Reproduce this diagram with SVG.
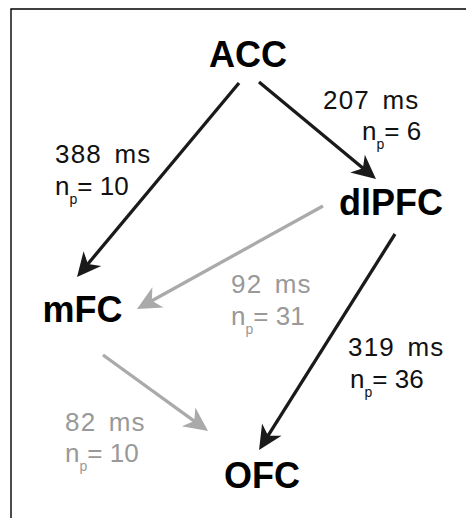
<svg xmlns="http://www.w3.org/2000/svg" width="466" height="518" viewBox="0 0 466 518">
<style>
.node{font-family:"Liberation Sans",Arial,Helvetica,sans-serif;font-weight:bold;font-size:36px;fill:#000;text-anchor:middle}
.lbl{font-family:"Liberation Sans",Arial,Helvetica,sans-serif;font-size:26px}
.ms{word-spacing:4px;letter-spacing:1.2px}
.blk{fill:#111}
.gry{fill:#999}
.sub{font-size:14px}
.cb{stroke:#1a1a1a;stroke-width:3.3;fill:none}
.cg{stroke:#aaaaaa;stroke-width:3.3;fill:none}
</style>
<defs>
<marker id="hb" viewBox="-12 -13 28 26" markerWidth="28" markerHeight="26" refX="0" refY="0" markerUnits="userSpaceOnUse" orient="auto">
<path d="M14,0 L-10,-11.5 L-3,0 L-10,11.5 Z" fill="#1a1a1a"/>
</marker>
<marker id="hg" viewBox="-12 -13 28 26" markerWidth="28" markerHeight="26" refX="0" refY="0" markerUnits="userSpaceOnUse" orient="auto">
<path d="M14,0 L-10,-11.5 L-3,0 L-10,11.5 Z" fill="#aaaaaa"/>
</marker>
</defs>
<rect width="466" height="518" fill="#fff"/>
<g id="frame" stroke="#000" stroke-width="1.4" fill="none">
<path d="M11,518 V9 H466"/>
</g>
<g id="connectors">
<line class="cb" x1="239" y1="83" x2="86" y2="266.2" marker-end="url(#hb)"/>
<line class="cb" x1="259" y1="82" x2="365.2" y2="170.1" marker-end="url(#hb)"/>
<line class="cg" x1="323" y1="206" x2="149.2" y2="302.2" marker-end="url(#hg)"/>
<line class="cb" x1="395" y1="234" x2="266.5" y2="438.2" marker-end="url(#hb)"/>
<line class="cg" x1="103" y1="355" x2="196.7" y2="422.8" marker-end="url(#hg)"/>
</g>
<g id="labels">
<text class="lbl ms blk" x="55" y="163">388 ms</text>
<text class="lbl blk" x="55" y="195">n<tspan class="sub" dy="9">p</tspan><tspan dy="-9">= 10</tspan></text>
<text class="lbl ms blk" x="323" y="109">207 ms</text>
<text class="lbl blk" x="362" y="140">n<tspan class="sub" dy="9">p</tspan><tspan dy="-9">= 6</tspan></text>
<text class="lbl ms gry" x="231" y="293">92 ms</text>
<text class="lbl gry" x="231" y="325">n<tspan class="sub" dy="9">p</tspan><tspan dy="-9">= 31</tspan></text>
<text class="lbl ms blk" x="348" y="356">319 ms</text>
<text class="lbl blk" x="350" y="388">n<tspan class="sub" dy="9">p</tspan><tspan dy="-9">= 36</tspan></text>
<text class="lbl ms gry" x="65" y="431">82 ms</text>
<text class="lbl gry" x="65" y="462">n<tspan class="sub" dy="9">p</tspan><tspan dy="-9">= 10</tspan></text>
</g>
<g id="node-ACC"><text class="node" x="248" y="67">ACC</text></g>
<g id="node-dlPFC"><text class="node" x="391" y="215">dlPFC</text></g>
<g id="node-mFC"><text class="node" x="82.5" y="322">mFC</text></g>
<g id="node-OFC"><text class="node" x="262" y="488">OFC</text></g>
</svg>
